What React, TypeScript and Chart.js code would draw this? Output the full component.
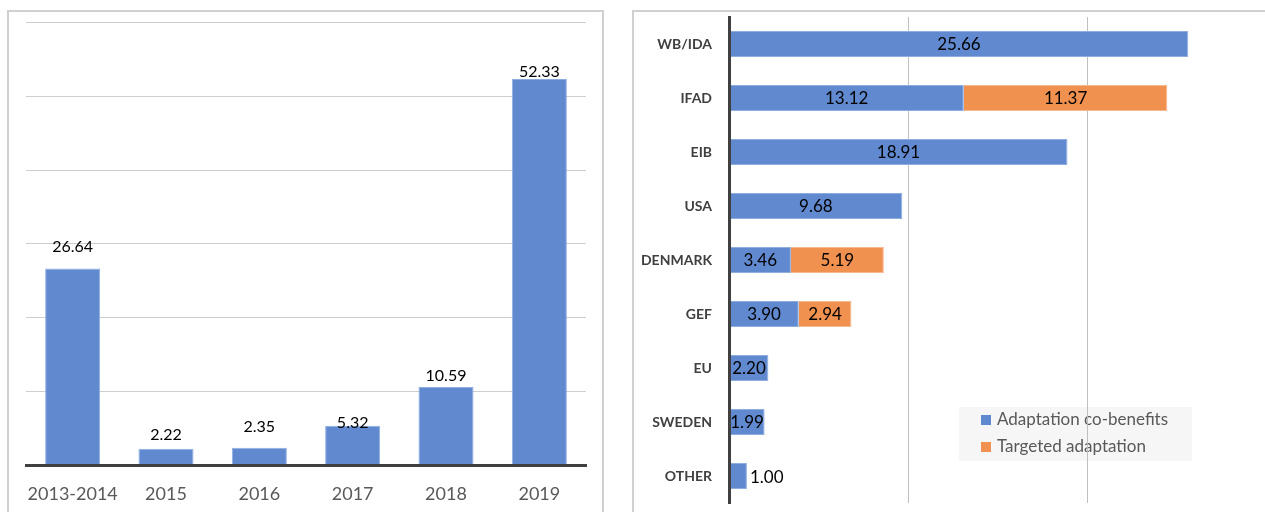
import React, { useEffect, useRef } from "react";
import { Chart, registerables } from "chart.js";
Chart.register(...registerables);

// ---- Left chart data ----
const years = ["2013-2014", "2015", "2016", "2017", "2018", "2019"];
const yearTotals = [26.64, 2.22, 2.35, 5.32, 10.59, 52.33];
const yearLabelLift = [22, 14, 21, 3, 11, 7];
const leftMax = 60;
const leftStep = 10;

// ---- Right chart data ----
const donors = ["WB/IDA", "IFAD", "EIB", "USA", "DENMARK", "GEF", "EU", "SWEDEN", "OTHER"];
const coBenefits = [25.66, 13.12, 18.91, 9.68, 3.46, 3.9, 2.2, 1.99, 1.0];
const targeted = [null, 11.37, null, null, 5.19, 2.94, null, null, null];
const seriesNames = ["Adaptation co-benefits", "Targeted adaptation"];
const rightMax = 30;
const rightStep = 10;

const FONT = "Lato, 'Liberation Sans', sans-serif";
const BLUE = "#6089cf";
const ORANGE = "#f0914f";
const EDGE_BLUE = "#8eaee0";
const EDGE_ORANGE = "#f6b98f";

const leftLabels = {
  id: "leftLabels",
  afterDatasetsDraw(chart: any) {
    const ctx = chart.ctx;
    const meta = chart.getDatasetMeta(0);
    ctx.save();
    ctx.font = `16px ${FONT}`;
    ctx.fillStyle = "#000";
    ctx.textAlign = "center";
    ctx.textBaseline = "middle";
    meta.data.forEach((el: any, i: number) => {
      const v = yearTotals[i];
      ctx.fillText(v.toFixed(2), el.x, el.y - yearLabelLift[i]);
    });
    ctx.restore();
  },
};

const rightLabels = {
  id: "rightLabels",
  afterDatasetsDraw(chart: any) {
    const ctx = chart.ctx;
    ctx.save();
    ctx.font = `17px ${FONT}`;
    ctx.fillStyle = "#000";
    ctx.textBaseline = "middle";
    chart.data.datasets.forEach((ds: any, d: number) => {
      const meta = chart.getDatasetMeta(d);
      meta.data.forEach((el: any, i: number) => {
        const v = ds.data[i];
        if (v == null) return;
        const txt = Number(v).toFixed(2);
        const w = ctx.measureText(txt).width;
        const barW = Math.abs(el.x - el.base);
        if (w > barW) {
          ctx.textAlign = "left";
          ctx.fillText(txt, Math.max(el.x, el.base) + 3, el.y + 2);
        } else {
          ctx.textAlign = "center";
          ctx.fillText(txt, (el.x + el.base) / 2, el.y + 1);
        }
      });
    });
    ctx.restore();
  },
};

const rightLegend = {
  id: "rightLegend",
  beforeDraw(chart: any) {
    const ctx = chart.ctx;
    const x0 = 326;
    const y0 = 397;
    ctx.save();
    ctx.fillStyle = "#f6f6f6";
    ctx.fillRect(x0, y0, 233, 54);
    const colors = [BLUE, ORANGE];
    ctx.font = `17px ${FONT}`;
    ctx.textBaseline = "middle";
    ctx.textAlign = "left";
    chart.data.datasets.forEach((ds: any, i: number) => {
      const cy = y0 + 13 + i * 27;
      ctx.fillStyle = colors[i];
      ctx.fillRect(x0 + 22, cy - 5, 10, 10);
      ctx.fillStyle = "#595959";
      ctx.fillText(ds.label, x0 + 38, cy);
    });
    ctx.restore();
  },
};

function LeftChart() {
  const ref = useRef<HTMLCanvasElement>(null);
  useEffect(() => {
    const chart = new Chart(ref.current!, {
      type: "bar",
      data: {
        labels: years,
        datasets: [
          {
            data: yearTotals,
            backgroundColor: BLUE,
            borderColor: EDGE_BLUE,
            borderWidth: 1,
            barPercentage: 0.59,
            categoryPercentage: 1,
          },
        ],
      },
      options: {
        responsive: false,
        animation: false,
        layout: { autoPadding: false, padding: { left: 18, right: 18, top: 12.5, bottom: 0 } },
        plugins: { legend: { display: false }, tooltip: { enabled: false } },
        scales: {
          x: {
            grid: { display: false },
            border: { display: true, color: "#404040", width: 3, z: 1 },
            ticks: {
              color: "#595959",
              font: { family: FONT, size: 18 },
              padding: 10,
              maxRotation: 0,
              minRotation: 0,
              autoSkip: false,
            },
            afterFit: (s: any) => {
              s.height = 47;
            },
          },
          y: {
            min: 0,
            max: leftMax,
            ticks: { display: false, stepSize: leftStep },
            grid: {
              drawTicks: false,
              color: (c: any) => (c.tick && c.tick.value === 0 ? "rgba(0,0,0,0)" : "#cdcdcd"),
            },
            border: { display: false },
            afterFit: (s: any) => {
              s.width = 0;
            },
          },
        },
      } as any,
      plugins: [leftLabels],
    });
    return () => chart.destroy();
  }, []);
  return (
    <canvas
      ref={ref}
      width={596}
      height={502}
      style={{ position: "absolute", left: 8, top: 10, width: 596, height: 502 }}
    />
  );
}

function RightChart() {
  const ref = useRef<HTMLCanvasElement>(null);
  useEffect(() => {
    const chart = new Chart(ref.current!, {
      type: "bar",
      data: {
        labels: donors,
        datasets: [
          {
            label: seriesNames[0],
            data: coBenefits,
            backgroundColor: BLUE,
            borderColor: EDGE_BLUE,
            borderWidth: 1,
            barPercentage: 0.48,
            categoryPercentage: 1,
          },
          {
            label: seriesNames[1],
            data: targeted,
            backgroundColor: ORANGE,
            borderColor: EDGE_ORANGE,
            borderWidth: 1,
            barPercentage: 0.48,
            categoryPercentage: 1,
          },
        ],
      },
      options: {
        indexAxis: "y",
        responsive: false,
        animation: false,
        layout: { autoPadding: false, padding: { left: 0, right: 0, top: 7, bottom: 9 } },
        plugins: { legend: { display: false }, tooltip: { enabled: false } },
        scales: {
          x: {
            stacked: true,
            min: 0,
            max: rightMax,
            ticks: { display: false, stepSize: rightStep },
            grid: {
              drawTicks: false,
              color: (c: any) =>
                c.tick && (c.tick.value === 0 || c.tick.value === rightMax) ? "rgba(0,0,0,0)" : "#bfbfbf",
            },
            border: { display: false },
            afterFit: (s: any) => {
              s.height = 0;
            },
          },
          y: {
            stacked: true,
            grid: { display: false },
            border: { display: true, color: "#404040", width: 3, z: 1 },
            ticks: { color: "#404040", font: { family: FONT, size: 14, weight: "bold" }, padding: 9, autoSkip: false },
            afterFit: (s: any) => {
              s.width = 96;
              s.paddingTop = 0;
              s.paddingBottom = 0;
            },
          },
        },
      } as any,
      plugins: [rightLegend, rightLabels],
    });
    return () => chart.destroy();
  }, []);
  return (
    <canvas
      ref={ref}
      width={633}
      height={502}
      style={{ position: "absolute", left: 633, top: 10, width: 633, height: 502 }}
    />
  );
}

export default function App() {
  return (
    <div
      style={{
        position: "fixed",
        left: 0,
        top: 0,
        width: 1265,
        height: 512,
        overflow: "hidden",
        background: "#fff",
      }}
    >
      <div
        style={{
          position: "absolute",
          left: 7,
          top: 10,
          width: 597,
          height: 520,
          border: "2px solid #d0d0d0",
          boxSizing: "border-box",
        }}
      />
      <div
        style={{
          position: "absolute",
          left: 632,
          top: 10,
          width: 700,
          height: 520,
          border: "2px solid #d0d0d0",
          boxSizing: "border-box",
        }}
      />
      <LeftChart />
      <RightChart />
    </div>
  );
}
